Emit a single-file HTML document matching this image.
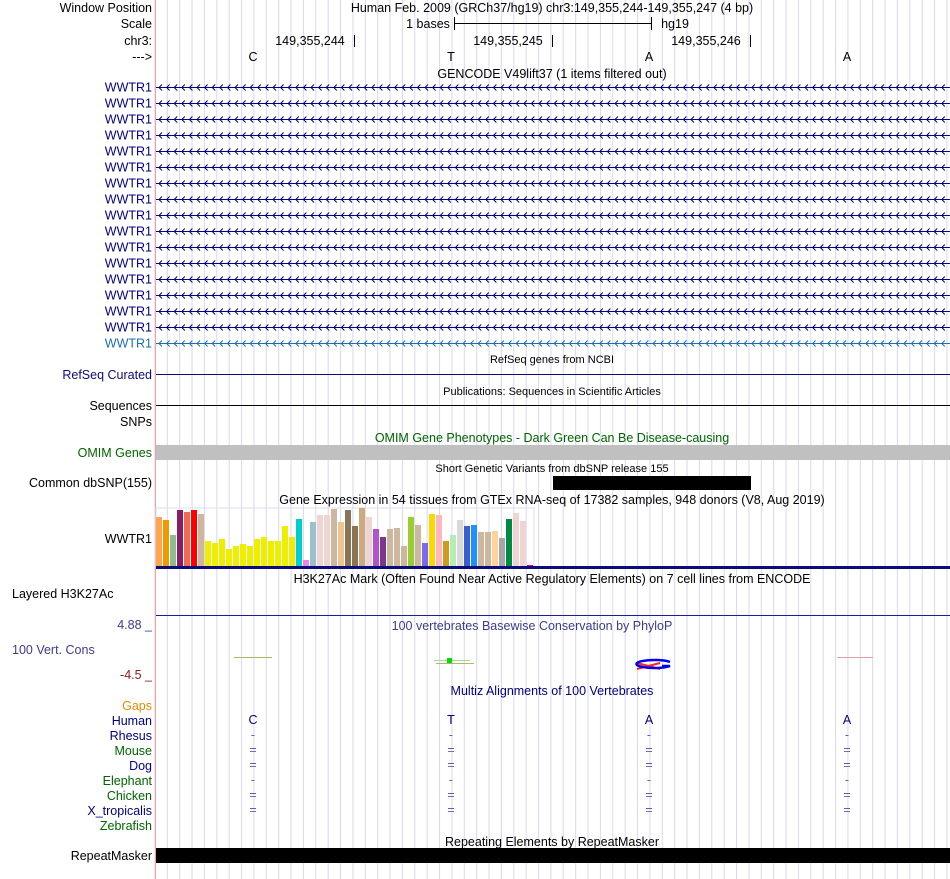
<!DOCTYPE html>
<html><head><meta charset="utf-8"><style>
html,body{margin:0;padding:0;background:#fff}
svg{display:block;font-family:"Liberation Sans",sans-serif;font-size:12.5px}
</style></head><body>
<svg id="s" width="950" height="879" viewBox="0 0 950 879">
<g id="grid"></g>
<line x1="155.5" y1="0" x2="155.5" y2="879" stroke="#f4a0a0"/>
<g id="labels" text-anchor="end"></g>
<g text-anchor="middle">
<text x="552" y="12">Human Feb. 2009 (GRCh37/hg19)   chr3:149,355,244-149,355,247 (4 bp)</text>
<text x="428" y="28">1 bases</text>
<text x="675" y="28">hg19</text>
<text x="310" y="45">149,355,244</text>
<text x="508" y="45">149,355,245</text>
<text x="706" y="45">149,355,246</text>
<text x="253" y="61">C</text>
<text x="451" y="61">T</text>
<text x="649" y="61">A</text>
<text x="847" y="61">A</text>
<text x="552" y="78">GENCODE V49lift37 (1 items filtered out)</text>
<text x="552" y="363" font-size="11">RefSeq genes from NCBI</text>
<text x="552" y="395" font-size="11">Publications: Sequences in Scientific Articles</text>
<text x="552" y="442" fill="#006400">OMIM Gene Phenotypes - Dark Green Can Be Disease-causing</text>
<text x="552" y="472" font-size="11">Short Genetic Variants from dbSNP release 155</text>
<text x="552" y="504">Gene Expression in 54 tissues from GTEx RNA-seq of 17382 samples, 948 donors (V8, Aug 2019)</text>
<text x="552" y="583">H3K27Ac Mark (Often Found Near Active Regulatory Elements) on 7 cell lines from ENCODE</text>
<text x="532" y="630" fill="#3c3c8c">100 vertebrates Basewise Conservation by PhyloP</text>
<text x="552" y="695" fill="#000080">Multiz Alignments of 100 Vertebrates</text>
<text x="552" y="846">Repeating Elements by RepeatMasker</text>
</g>
<g stroke="#000">
<line x1="454" y1="23.5" x2="651" y2="23.5"/><line x1="454.5" y1="17" x2="454.5" y2="30"/><line x1="651.5" y1="17" x2="651.5" y2="30"/>
<line x1="354.5" y1="35" x2="354.5" y2="47"/><line x1="552.5" y1="35" x2="552.5" y2="47"/><line x1="750.5" y1="35" x2="750.5" y2="47"/>
</g>
<g id="gencode"></g>
<line x1="156" y1="374.5" x2="950" y2="374.5" stroke="#0c0c78"/>
<line x1="156" y1="405.5" x2="950" y2="405.5" stroke="#000"/>
<rect x="156" y="445" width="794" height="15" fill="#c0c0c0"/>
<rect x="553" y="476" width="198" height="14" fill="#000"/>
<rect x="156" y="508" width="378" height="59" fill="none" stroke="#dde"/>
<g id="bars"></g>
<rect x="156" y="566" width="794" height="3" fill="#0c0c78"/>
<line x1="156" y1="615.5" x2="950" y2="615.5" stroke="#1a1aa0"/>
<g>
<line x1="234" y1="657.5" x2="272" y2="657.5" stroke="#b4b460"/>
<line x1="434" y1="660.5" x2="470" y2="660.5" stroke="#90e090"/>
<rect x="447" y="658" width="5" height="5" fill="#00dd00"/>
<line x1="436" y1="663.5" x2="474" y2="663.5" stroke="#c0b070"/>
<path d="M637 669 L660 663 M637 663 L660 669" stroke="#ff2020" stroke-width="2"/>
<path d="M670 662 A18 4 0 1 0 670 666 L662 666" fill="none" stroke="#0000ee" stroke-width="2.5"/>
<line x1="837" y1="657.5" x2="873" y2="657.5" stroke="#e0a0a0"/>
</g>
<g id="multiz" text-anchor="middle" fill="#6060a8"></g>
<rect x="156" y="848" width="794" height="15" fill="#000"/>
</svg>
<script>
const NS="http://www.w3.org/2000/svg";
function mk(tag,attrs,parent){const e=document.createElementNS(NS,tag);for(const k in attrs)e.setAttribute(k,attrs[k]);parent.appendChild(e);return e;}
const grid=document.getElementById('grid');
for(let x=167.3-12.375;x<950;x+=12.375){const l=mk('line',{x1:x,y1:0,x2:x,y2:879,stroke:'#d8d8f0'},grid);

}
const labelData=[
["Window Position",12,"#000"],["Scale",28,"#000"],["chr3:",45,"#000"],["--->",61,"#000"],
["RefSeq Curated",379,"#0c0c78"],["Sequences",410,"#000"],["SNPs",426,"#000"],["OMIM Genes",457,"#006400"],
["Common dbSNP(155)",487,"#000"],["WWTR1",543,"#000"],["Layered H3K27Ac",598,"#000"],
["4.88 _",629,"#3c3c8c"],["100 Vert. Cons",654,"#3c3c8c"],["-4.5 _",679,"#8b1a1a"],
["Gaps",710,"#e08c00"],["Human",725,"#000080"],["Rhesus",740,"#000080"],["Mouse",755,"#006400"],["Dog",770,"#000080"],
["Elephant",785,"#006400"],["Chicken",800,"#006400"],["X_tropicalis",815,"#000080"],["Zebrafish",830,"#006400"],["RepeatMasker",860,"#000"]];
const lab=document.getElementById('labels');
labelData.forEach(d=>{let x=152;let anchor='end';
 if(d[0]=="Layered H3K27Ac"||d[0]=="100 Vert. Cons"){x=12;anchor='start';}
 const t=mk('text',{x:x,y:d[1],fill:d[2],'text-anchor':anchor},lab);t.textContent=d[0];
 
 });
const gen=document.getElementById('gencode');
for(let i=0;i<17;i++){const y=87.5+i*16;const c=i==16?'#1a6fb0':'#000080';
 const t=mk('text',{x:152,y:y+4,fill:c,'text-anchor':'end'},gen);t.textContent='WWTR1';
 
 
 let d='M156 '+y+' L950 '+y;
 for(let x=159;x<948;x+=7.6){d+=` M${x+3} ${y-3} L${x} ${y} L${x+3} ${y+3}`;}
 const p=mk('path',{d:d,stroke:c,fill:'none','stroke-width':1},gen);
 
 }
const tissueValues=[49,46,31,56,54,56,52,25,23,27,17,20,22,20,27,29,25,25,40,29,47,6,44,51,51,57,44,56,40,58,49,37,29,37,38,20,49,41,23,52,51,25,31,46,40,41,34,34,35,28,47,53,45,1];
const tissueColors=["#FFA54F","#EE9A00","#8FBC8F","#8B1C62","#EE6A50","#FF0000","#CDB79E","#EEEE00","#EEEE00","#EEEE00","#EEEE00","#EEEE00","#EEEE00","#EEEE00","#EEEE00","#EEEE00","#EEEE00","#EEEE00","#EEEE00","#EEEE00","#00CED1","#EE82EE","#9AC0CD","#EED5D2","#EED5D2","#CDB79E","#EEC591","#8B7355","#8B7355","#CDAA7D","#EED5D2","#B452CD","#7A378B","#CDB79E","#CDB79E","#CDB79E","#9ACD32","#CDB79E","#7B68EE","#FFD700","#FFB6C1","#CD9B1D","#B4EEB4","#D9D9D9","#3A5FCD","#1E90FF","#CDB79E","#CDB79E","#FFD39B","#A6A6A6","#008B45","#EED5D2","#EED5D2","#CC00CC"];
const maxV=60, baseY=566, plotH=60, x0=156, step=7;
const yScale=v=>baseY-v/maxV*plotH;
const bars=document.getElementById('bars');
tissueValues.forEach((v,i)=>{const y=yScale(v);
 const r=mk('rect',{x:x0+i*step,y:y,width:step-1,height:baseY-y,fill:tissueColors[i]},bars);
 
 });
const baseXs=[253,451,649,847];
const humanBases=["C","T","A","A"];
const species=[["-",739],["=",754],["=",769],["-",784],["=",799],["=",814]];
const mz=document.getElementById('multiz');
baseXs.forEach((x,i)=>{const t=mk('text',{x:x,y:724,fill:'#000080'},mz);t.textContent=humanBases[i];
 
 
 species.forEach(s=>{const u=mk('text',{x:x,y:s[1]},mz);u.textContent=s[0];
 
 });});
</script>
</body></html>
